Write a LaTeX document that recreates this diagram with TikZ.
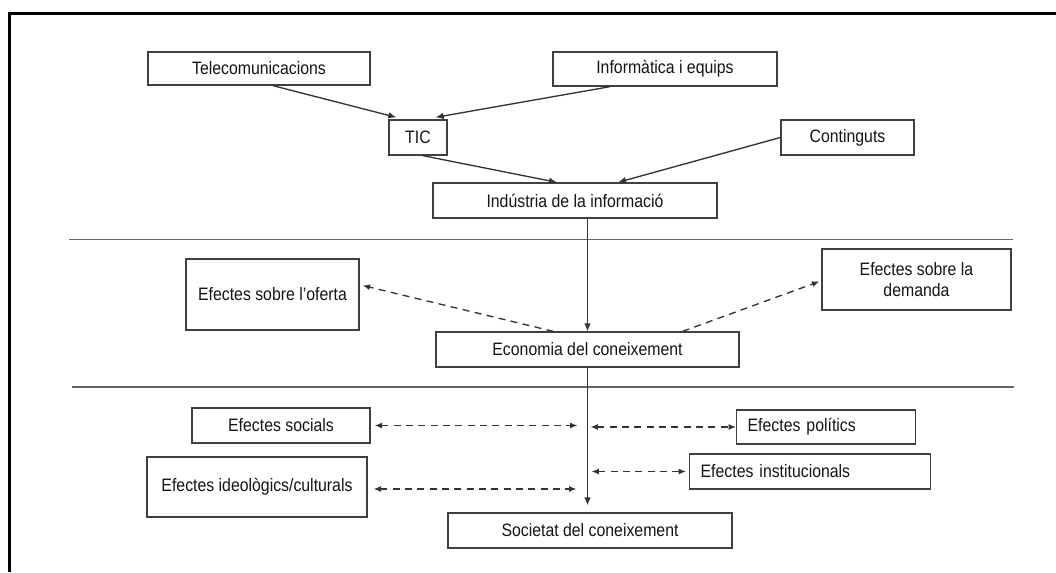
\documentclass[tikz,border=0pt]{standalone}
\usepackage{fontspec}
\setmainfont{Liberation Sans}[FakeStretch=0.88]
\usetikzlibrary{arrows.meta,calc}
\begin{document}
\begin{tikzpicture}[x=0.75pt,y=-0.75pt,
  box/.style={draw=black!75,line width=1pt,inner sep=0pt,align=center,
    font=\fontsize{13.5}{15.5}\selectfont,text=black!92},
  lbox/.style={box,align=left,anchor=west},
  conn/.style={-{Latex[length=6pt,width=5pt]},draw=black!80,line width=1pt},
  dconn/.style={{Latex[length=5.5pt,width=4.5pt]}-{Latex[length=5.5pt,width=4.5pt]},draw=black!80,line width=1pt,dash pattern=on 5.25pt off 4pt},
  sconn/.style={-{Latex[length=5.5pt,width=4.5pt]},draw=black!80,line width=1pt,dash pattern=on 5.25pt off 4pt},
  sep/.style={draw=black!60,line width=1.2pt}]
\useasboundingbox (0,0) rectangle (1056,572);
\draw[line width=2.25pt] (9.5,572) -- (9.5,13.5) -- (1056,13.5);

% top layer
\node[box,minimum width=222*0.75pt,minimum height=33*0.75pt] (tele) at (259,68.5) {Telecomunicacions};
\node[box,minimum width=224*0.75pt,minimum height=34*0.75pt] (info) at (665,69) {Informàtica i equips};
\node[box,minimum width=58*0.75pt,minimum height=35*0.75pt] (tic) at (418,137.5) {TIC};
\node[box,minimum width=133*0.75pt,minimum height=35*0.75pt] (cont) at (847.5,137.5) {Continguts};
\node[box,minimum width=284*0.75pt,minimum height=35*0.75pt] (ind) at (575,200.5) {Indústria de la informació};

% separators
\coordinate (s1a) at (69,239.5);
\coordinate (s1b) at (1013,239.5);
\coordinate (s2a) at (72,387);
\coordinate (s2b) at (1014,387);
\draw[sep] (s1a) -- (s1b);
\draw[sep] (s2a) -- (s2b);

% middle layer
\node[box,minimum width=173*0.75pt,minimum height=71*0.75pt] (ofe) at (272.5,294.5) {Efectes sobre l’oferta};
\node[box,minimum width=189*0.75pt,minimum height=61*0.75pt] (dem) at (916.5,279.5) {Efectes sobre la\\demanda};
\node[box,minimum width=303*0.75pt,minimum height=35*0.75pt] (eco) at (587.5,349.5) {Economia del coneixement};

% bottom layer
\node[box,minimum width=178*0.75pt,minimum height=35*0.75pt] (socials) at (281,425.5) {Efectes socials};
\node[box,minimum width=220*0.75pt,minimum height=60*0.75pt] (ideo) at (257,487) {Efectes ideològics/culturals};
\node[lbox,minimum width=179*0.75pt,minimum height=34*0.75pt,text width=117.75pt,inner xsep=8.25pt] (pol) at (736,427) {Efectes polítics};
\node[lbox,minimum width=241*0.75pt,minimum height=35*0.75pt,text width=164.25pt,inner xsep=8.25pt] (inst) at (689,471.5) {Efectes institucionals};
\node[box,minimum width=284*0.75pt,minimum height=35*0.75pt] (soc) at (590,530.5) {Societat del coneixement};

% connectors
\draw[conn] ($(tele.south)+(14,0)$) -- ($(tic.north west)+(8,-2)$);
\draw[conn] ($(info.south)+(-55,0)$) -- ($(tic.north east)+(-12,-2)$);
\draw[conn] ($(tic.south)+(5,0)$) -- ($(ind.north)+(-18,0)$);
\draw[conn] (cont.west) -- ($(ind.north)+(43,0)$);
\draw[conn] (ind.south -| eco.north) -- (eco.north);
\draw[sconn] ($(eco.north west)+(118,0)$) -- ($(ofe.east)+(3,-9)$);
\draw[sconn] ($(eco.north east)+(-57,0)$) -- ($(dem.west)+(-2,2)$);
\coordinate (socTop) at ($(soc.north)+(0,-7)$);
\draw[conn] (eco.south) -- (eco.south |- socTop);

\draw[dconn] ($(socials.east)+(4,0)$) -- ($(socials.east -| eco.south)+(-10,0)$);
\draw[dconn] ($(pol.west -| eco.south)+(3,0)$) -- (pol.west);
\draw[dconn] ($(inst.west -| eco.south)+(4,0)$) -- ($(inst.west)+(-3,0)$);
\draw[dconn] ($(ideo.east)+(6,2)$) -- ($(ideo.east -| eco.south)+(-11,2)$);
\end{tikzpicture}
\end{document}
